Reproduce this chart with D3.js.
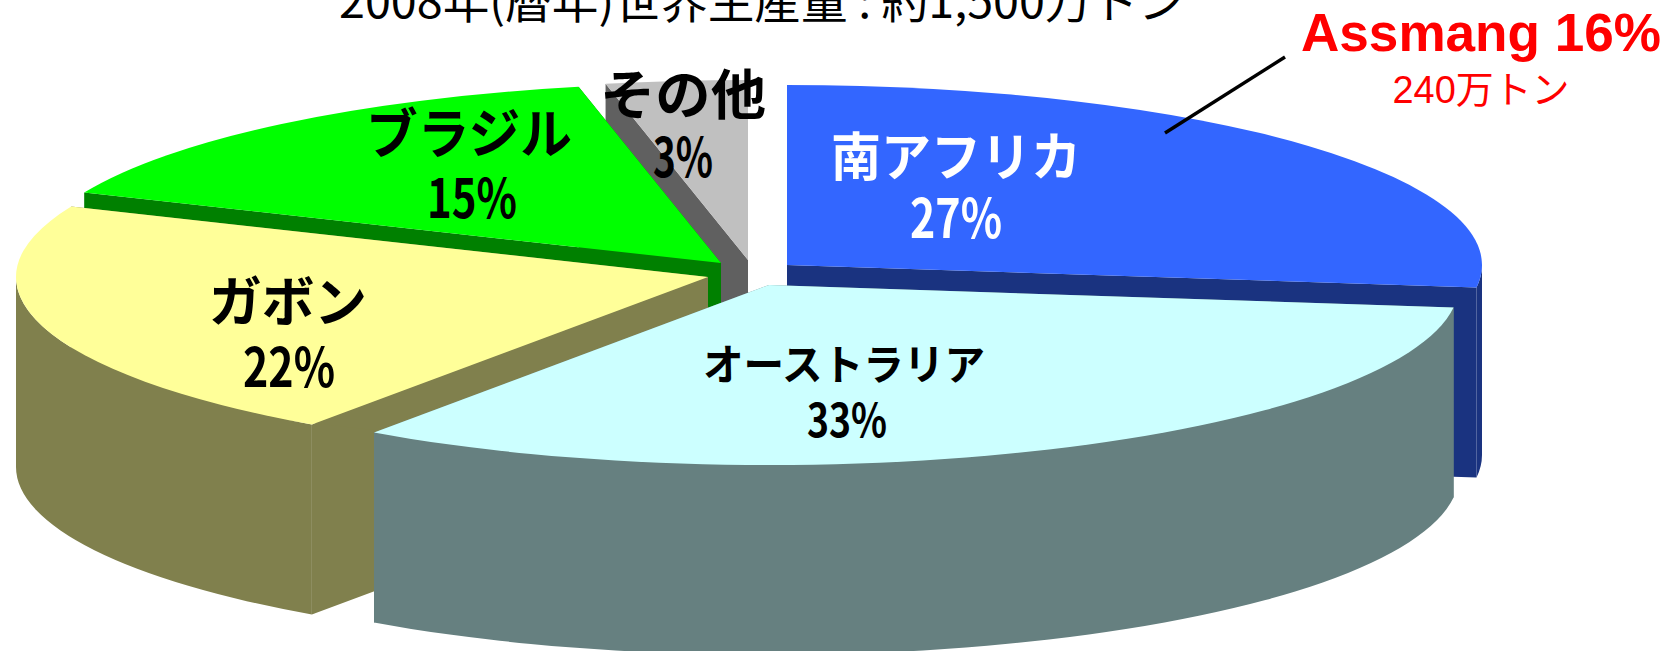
<!DOCTYPE html>
<html lang="ja">
<head>
<meta charset="utf-8">
<title>マンガン鉱石 世界生産量</title>
<script src="https://cdn.jsdelivr.net/npm/d3@7"></script>
<style>
html,body{margin:0;padding:0;background:#fff;overflow:hidden}
svg{display:block}
text{font-family:"Noto Sans CJK JP","Noto Sans",sans-serif}
</style>
</head>
<body>
<svg id="chart" width="1675" height="651"></svg>
<script>
// ---- data ----
const categories = ["南アフリカ","オーストラリア","ガボン","ブラジル","その他"];
const shares = [27, 32.7, 21.7, 15.3, 3.3];
const titleText = "2008年(暦年)世界生産量 : 約1,500万トン";
const calloutName = "Assmang 16%";
const calloutAmount = "240万トン";

// ---- styles ----
const topColors  = ["#3366ff","#ccffff","#ffff99","#00ff00","#c0c0c0"];
const wallColors = ["#1a3380","#668080","#80804d","#008000","#606060"];
const textColors = ["#ffffff","#000000","#000000","#000000","#000000"];

// ---- layout (exploded pie: each wedge has its own apex) ----
const apexX = [787,769,708,721,748];
const apexY = [265,285,277,263,260];
const radii = [695,690,692,692,692];
const ellipseRy = 180, depth = 190;
const drawOrder = [4,3,0,2,1];
// label geometry: name centre, name baseline, name width, name size, pct centre, pct baseline, pct width, pct size, weight
const labelLayout = [
  {nx:956,ny:176,nw:250,ns:52,px:956,py:238,pw:92,ps:54,w:700},
  {nx:844,ny:380,nw:282,ns:42,px:847,py:437,pw:80,ps:46,w:700},
  {nx:288,ny:322,nw:158,ns:54,px:289,py:387,pw:92,ps:54,w:700},
  {nx:469,ny:154,nw:206,ns:54,px:472,py:218,pw:90,ps:54,w:700},
  {nx:683,ny:115,nw:166,ns:54,px:683,py:177,pw:60,ps:54,w:700}
];

const svg = d3.select("#chart");
const pieGen = d3.pie().sort(null).value(d => d);
const wedges = pieGen(shares);
const HALF = Math.PI / 2;

function wallPaths(d, R, kk) {
  const dz = depth / kk;
  const pt = a => [R * Math.sin(a), -R * Math.cos(a)];
  const out = [];
  for (const q of [pt(d.startAngle), pt(d.endAngle)]) {
    const p = d3.path();
    p.moveTo(0, 0); p.lineTo(q[0], q[1]); p.lineTo(q[0], q[1] + dz); p.lineTo(0, dz); p.closePath();
    out.push(p.toString());
  }
  const a0 = Math.max(d.startAngle, HALF), a1 = Math.min(d.endAngle, 3 * HALF);
  if (a1 > a0) {
    const p = d3.path();
    p.moveTo(...pt(a0));
    p.arc(0, 0, R, a0 - HALF, a1 - HALF, false);
    const b = pt(a1);
    p.lineTo(b[0], b[1] + dz);
    p.arc(0, dz, R, a1 - HALF, a0 - HALF, true);
    p.closePath();
    out.push(p.toString());
  }
  return out;
}

const pieG = svg.append("g");
drawOrder.forEach(i => {
  const d = wedges[i], R = radii[i], kk = ellipseRy / R;
  const g = pieG.append("g")
    .attr("transform", `translate(${apexX[i]},${apexY[i]}) scale(1,${kk})`);
  g.selectAll("path.wall").data(wallPaths(d, R, kk)).join("path")
    .attr("class", "wall").attr("d", s => s).attr("fill", wallColors[i]);
  g.append("path")
    .attr("d", d3.arc().innerRadius(0).outerRadius(R)(d))
    .attr("fill", topColors[i]);
});

// wedge labels
categories.forEach((name, i) => {
  const l = labelLayout[i];
  svg.append("text").text(name)
    .attr("x", l.nx).attr("y", l.ny).attr("text-anchor", "middle")
    .attr("font-size", l.ns).attr("font-weight", l.w).attr("fill", textColors[i])
    .attr("textLength", l.nw).attr("lengthAdjust", "spacingAndGlyphs");
  svg.append("text").text(Math.round(shares[i]) + "%")
    .attr("x", l.px).attr("y", l.py).attr("text-anchor", "middle")
    .attr("font-size", l.ps).attr("font-weight", l.w).attr("fill", textColors[i])
    .attr("textLength", l.pw).attr("lengthAdjust", "spacingAndGlyphs");
});

// title (runs off the top edge, as in the source)
svg.append("text").text(titleText)
  .attr("x", 762).attr("y", 18).attr("text-anchor", "middle")
  .attr("font-size", 46).attr("font-weight", 400).attr("fill", "#000")
  .attr("textLength", 846).attr("lengthAdjust", "spacingAndGlyphs");

// callout
svg.append("line").attr("x1", 1285).attr("y1", 57).attr("x2", 1165).attr("y2", 133)
  .attr("stroke", "#000").attr("stroke-width", 3.5);
svg.append("text").text(calloutName)
  .attr("x", 1481).attr("y", 51).attr("text-anchor", "middle")
  .style("font-family", '"Liberation Sans",Arial,sans-serif')
  .attr("font-size", 53).attr("font-weight", 700).attr("fill", "#ff0000")
  .attr("textLength", 360).attr("lengthAdjust", "spacingAndGlyphs");
svg.append("text").text(calloutAmount)
  .attr("x", 1481).attr("y", 103).attr("text-anchor", "middle")
  .style("font-family", '"Liberation Sans","Noto Sans CJK JP",sans-serif')
  .attr("font-size", 38).attr("fill", "#ff0000")
  .attr("textLength", 177).attr("lengthAdjust", "spacingAndGlyphs");
</script>
</body>
</html>
